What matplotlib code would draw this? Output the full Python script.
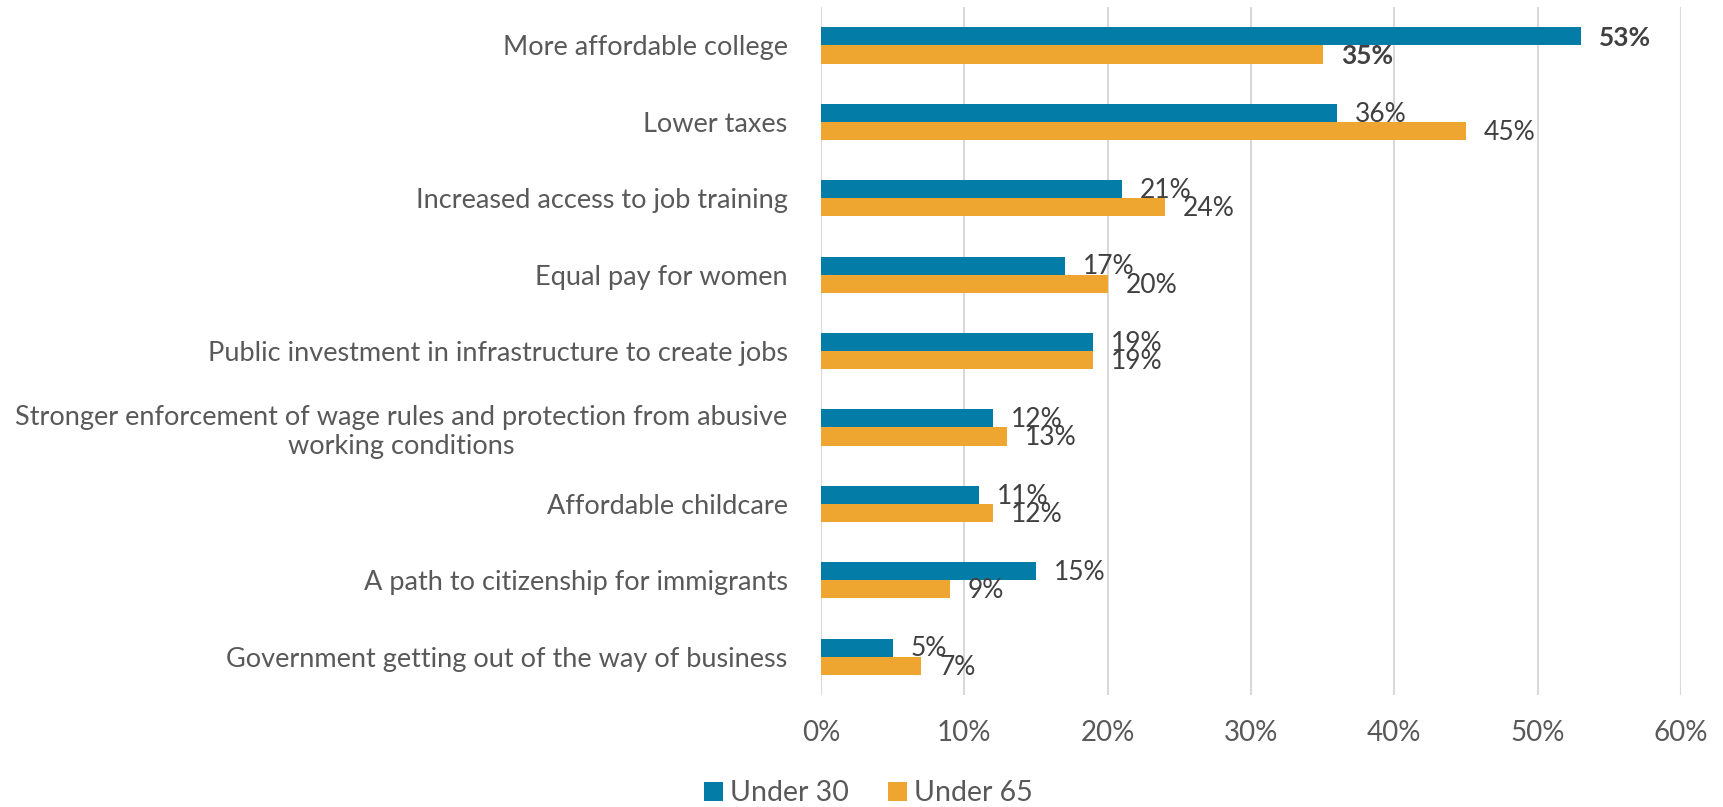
import numpy as np
import matplotlib
matplotlib.use("Agg")
import matplotlib.pyplot as plt
from matplotlib.patches import Patch

plt.rcParams['font.family'] = ['Lato', 'DejaVu Sans']

# Data
categories = [
    "More affordable college",
    "Lower taxes",
    "Increased access to job training",
    "Equal pay for women",
    "Public investment in infrastructure to create jobs",
    "Stronger enforcement of wage rules and protection from abusive\nworking conditions",
    "Affordable childcare",
    "A path to citizenship for immigrants",
    "Government getting out of the way of business",
]
under_30 = [53, 36, 21, 17, 19, 12, 11, 15, 5]
under_65 = [35, 45, 24, 20, 19, 13, 12, 9, 7]
series_names = ["Under 30", "Under 65"]
xticks = [0, 10, 20, 30, 40, 50, 60]

blue = "#047CA8"
orange = "#EFA631"
text_gray = "#595959"
label_gray = "#404040"

fig = plt.figure(figsize=(17.23, 8.07), dpi=100)
ax = fig.add_axes([0.4765, 0.139, 0.4991, 0.852])

y = np.arange(len(categories))
h = 0.237
ax.barh(y - h / 2, under_30, height=h, color=blue, zorder=3)
ax.barh(y + h / 2, under_65, height=h, color=orange, zorder=3)

# value labels
for i in range(len(categories)):
    weight = 'bold' if i == 0 else 'normal'
    ax.annotate(f"{under_30[i]}%", xy=(under_30[i], y[i] - h / 2), xytext=(13, -1),
                textcoords='offset points', va='center', ha='left',
                fontsize=19, color=label_gray, fontweight=weight, zorder=4)
    ax.annotate(f"{under_65[i]}%", xy=(under_65[i], y[i] + h / 2), xytext=(13, -1),
                textcoords='offset points', va='center', ha='left',
                fontsize=19, color=label_gray, fontweight=weight, zorder=4)

ax.set_xlim(0, 60)
ax.set_ylim(len(categories) - 0.5, -0.5)
ax.set_xticks(xticks)
ax.set_xticklabels([f"{t}%" for t in xticks])
ax.set_yticks(y)
ax.set_yticklabels(categories)
for lab in ax.get_yticklabels():
    lab.set_multialignment('center')

ax.tick_params(axis='y', length=0, pad=24, labelsize=19.5, labelcolor=text_gray)
ax.tick_params(axis='x', length=0, pad=18, labelsize=20, labelcolor=text_gray)

ax.grid(axis='x', color="#D9D9D9", linewidth=1.5, zorder=0)
for s in ax.spines.values():
    s.set_visible(False)

handles = [Patch(facecolor=blue, edgecolor='none'), Patch(facecolor=orange, edgecolor='none')]
fig.legend(handles, series_names, loc='center', bbox_to_anchor=(0.504, 0.017),
           ncol=2, frameon=False, fontsize=20.5, labelcolor=text_gray,
           handlelength=0.65, handleheight=0.65, handletextpad=0.25, columnspacing=1.4,
           borderpad=0, borderaxespad=0)

fig.savefig("out.png", dpi=100)
